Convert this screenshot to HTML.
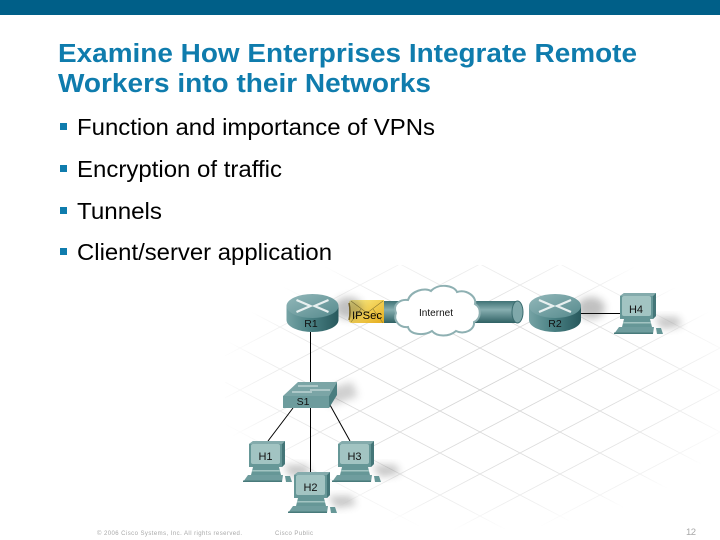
<!DOCTYPE html>
<html><head><meta charset="utf-8"><style>
html,body{margin:0;padding:0;background:#fff}
svg{display:block}
text{font-family:"Liberation Sans",sans-serif}
</style></head><body>
<svg width="720" height="540" viewBox="0 0 720 540" xmlns="http://www.w3.org/2000/svg">
<defs>
<pattern id="grid" width="80" height="42" patternUnits="userSpaceOnUse" patternTransform="translate(560 348)">
<path d="M-40 -21L120 63M-40 21L120 -63M-40 63L120 -21M-40 -63L120 21" stroke="#d2d2d2" stroke-width=".8" fill="none"/>
</pattern>
<radialGradient id="fade" gradientUnits="userSpaceOnUse" cx="480" cy="385" r="265" gradientTransform="translate(480 385) scale(1 .55) translate(-480 -385)">
<stop offset="0" stop-color="#fff"/><stop offset=".55" stop-color="#bbb"/><stop offset=".85" stop-color="#555"/><stop offset="1" stop-color="#000"/>
</radialGradient>
<mask id="m" maskUnits="userSpaceOnUse" x="0" y="0" width="720" height="540"><rect width="720" height="540" fill="url(#fade)"/></mask>
<linearGradient id="body" x1="0" x2="1" y1="0" y2="0"><stop offset="0" stop-color="#76a3a5"/><stop offset=".45" stop-color="#4a8184"/><stop offset="1" stop-color="#28595d"/></linearGradient>
<linearGradient id="top" x1="0" x2="1" y1="0" y2="1"><stop offset="0" stop-color="#93b8ba"/><stop offset="1" stop-color="#568a8d"/></linearGradient>
<linearGradient id="tube" x1="0" x2="0" y1="0" y2="1"><stop offset="0" stop-color="#3f7275"/><stop offset=".4" stop-color="#86aeb0"/><stop offset="1" stop-color="#2f6164"/></linearGradient>
<linearGradient id="env" x1="0" x2="1" y1="0" y2="1"><stop offset="0" stop-color="#fdf08a"/><stop offset="1" stop-color="#e5ac1c"/></linearGradient>
<filter id="b" x="-50%" y="-50%" width="200%" height="200%"><feGaussianBlur stdDeviation="4"/></filter>
<g id="pc">
<path d="M34 24L58 24L62 33L42 36Z" fill="#444" opacity=".3" filter="url(#b)"/>
<path d="M0 3L4 0L36 0L36 23L33 26L0 26Z" fill="#669797"/>
<path d="M33 3L36 0L36 23L33 26Z" fill="#447678"/>
<path d="M0 3L4 0L36 0L33 3Z" fill="#84abac"/>
<rect x="2" y="3" width="29" height="20" rx="2" fill="#a2c4c2"/>
<path d="M4 26H30L32 34H2Z" fill="#669797"/>
<rect x="3" y="29" width="28" height="1.500" fill="#a2c4c2"/>
<path d="M-1 34H34L33 41H-6Z" fill="#6f9d9e"/>
<rect x="-6" y="39.500" width="39" height="1.500" fill="#487a7b"/>
<path d="M36 35H41L43 41H37Z" fill="#669797"/>
</g>
<g id="router">
<ellipse cx="36" cy="2" rx="14" ry="11" fill="#333" opacity=".3" filter="url(#b)"/>
<path d="M-26 0V14A26 12 0 0 0 26 14V0Z" fill="url(#body)"/>
<ellipse cx="0" cy="0" rx="26" ry="12" fill="url(#top)"/>
<path d="M-16 -6L-2 0L-16 6M16 -6L2 0L16 6" stroke="#e8f0f0" stroke-width="2.200" fill="none"/>
</g>
</defs>

<rect width="720" height="15" fill="#005f88"/>

<rect x="225" y="265" width="495" height="275" fill="url(#grid)" mask="url(#m)"/>

<text x="58" y="62" font-size="25.500" font-weight="700" fill="#0f7cad" textLength="579" lengthAdjust="spacingAndGlyphs">Examine How Enterprises Integrate Remote</text>
<text x="58" y="92" font-size="25.500" font-weight="700" fill="#0f7cad" textLength="373" lengthAdjust="spacingAndGlyphs">Workers into their Networks</text>

<g fill="#0f7cad">
<rect x="60" y="123" width="7" height="7"/><rect x="60" y="165" width="7" height="7"/><rect x="60" y="207" width="7" height="7"/><rect x="60" y="248" width="7" height="7"/>
</g>
<g font-size="23" fill="#000">
<text x="77" y="135" textLength="358" lengthAdjust="spacingAndGlyphs">Function and importance of VPNs</text>
<text x="77" y="177" textLength="205" lengthAdjust="spacingAndGlyphs">Encryption of traffic</text>
<text x="77" y="219" textLength="85" lengthAdjust="spacingAndGlyphs">Tunnels</text>
<text x="77" y="260" textLength="255" lengthAdjust="spacingAndGlyphs">Client/server application</text>
</g>

<g stroke="#000" stroke-width="1" fill="none">
<path d="M310.500 332V382M293 408L268 441M310.500 408V473M330 405L350 441M581 313.500H621"/>
</g>

<rect x="378" y="301" width="140" height="22" fill="url(#tube)"/>
<ellipse cx="517.500" cy="312" rx="5.500" ry="11" fill="#7fa8aa" stroke="#3a6c6f"/>
<path d="M349 303Q349 300 352 300H384V323H352Q349 323 349 320Z" fill="url(#env)"/>
<path d="M349 303Q351 312 349 320" stroke="#8a6f20" stroke-width="1.500" fill="none"/>
<path d="M351 301L367 313L383 301M351 322L361 309M383 323L373 309" stroke="#8a7a30" stroke-width=".6" fill="none"/>
<text x="352" y="319" font-size="11" fill="#000" textLength="30" lengthAdjust="spacingAndGlyphs">IPSec</text>
<path d="M396 313C392 304 401 299 408 300C411 291 425 287 431 291C438 283 454 285 457 292C467 289 477 297 475 304C482 308 481 319 474 322C475 330 464 335 456 331C449 337 437 337 432 331C424 336 410 335 408 327C399 328 393 320 396 313Z" fill="#fff" stroke="#8eb0b2" stroke-width="2"/>
<text x="436" y="316" font-size="10" text-anchor="middle" fill="#111" textLength="34" lengthAdjust="spacing">Internet</text>

<use href="#router" x="312.500" y="306"/>
<use href="#router" x="555" y="306"/>
<g font-size="10.500" fill="#111" text-anchor="middle">
<text x="311" y="327">R1</text>
<text x="555" y="327">R2</text>
</g>

<path d="M325 390L352 382L358 396L330 406Z" fill="#555" opacity=".28" filter="url(#b)"/>
<path d="M283 396L298 382H337L329 396Z" fill="#7ba5a6"/>
<rect x="283" y="396" width="46" height="12" fill="#6d9c9d"/>
<path d="M329 396L337 382V395L329 408Z" fill="#4a7d7f"/>
<path d="M298 386H318M310 390H330M292 392H312" stroke="#dfeaea" stroke-width="1"/>
<text x="303" y="405" font-size="10.500" text-anchor="middle" fill="#111">S1</text>

<use href="#pc" x="249" y="441"/>
<use href="#pc" x="294" y="472"/>
<use href="#pc" x="338" y="441"/>
<use href="#pc" x="620" y="293"/>
<g font-size="11" fill="#111" text-anchor="middle">
<text x="265.500" y="460">H1</text>
<text x="310.500" y="491">H2</text>
<text x="354.500" y="460">H3</text>
<text x="636" y="313">H4</text>
</g>

<g fill="#a8a8a8">
<text x="97" y="535" font-size="6" textLength="145" lengthAdjust="spacing">© 2006 Cisco Systems, Inc. All rights reserved.</text>
<text x="275" y="535" font-size="6" textLength="38" lengthAdjust="spacing">Cisco Public</text>
<text x="686" y="535" font-size="9.500" textLength="10">12</text>
</g>
</svg>
</body></html>
